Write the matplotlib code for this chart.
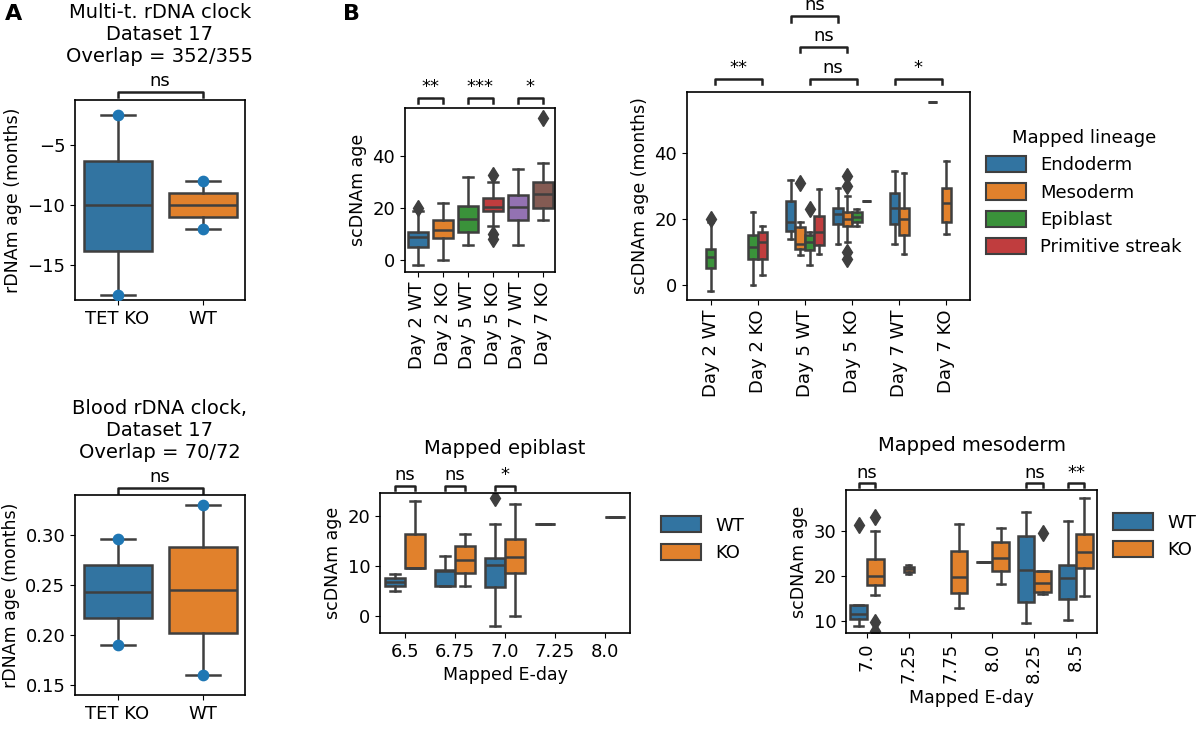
import matplotlib
matplotlib.use("Agg")
import matplotlib.pyplot as plt
from matplotlib.patches import Patch

# ---------------- data (box stats) ----------------
# each box: (q1, med, q3, whislo, whishi, fliers)
A_top_groups = ["TET KO", "WT"]
A_top_boxes = [(-13.8, -10.0, -6.3, -17.5, -2.5, []), (-11.0, -10.0, -9.0, -12.0, -8.0, [])]
A_top_points = [[-17.5, -2.5], [-12.0, -8.0]]

A_bot_groups = ["TET KO", "WT"]
A_bot_boxes = [(0.217, 0.243, 0.270, 0.190, 0.296, []), (0.202, 0.245, 0.288, 0.160, 0.330, [])]
A_bot_points = [[0.190, 0.296], [0.160, 0.330]]

day_labels = ["Day 2 WT", "Day 2 KO", "Day 5 WT", "Day 5 KO", "Day 7 WT", "Day 7 KO"]
day_boxes = [
    (5.0, 9.0, 11.0, -2.0, 19.0, [20.0]),
    (8.5, 11.5, 15.5, 0.0, 22.0, []),
    (11.0, 16.0, 21.0, 6.0, 32.0, []),
    (19.0, 20.5, 24.0, 13.0, 30.0, [33.0, 10.0, 8.0]),
    (15.5, 20.5, 25.0, 6.0, 35.0, []),
    (20.0, 25.5, 30.0, 15.5, 37.5, [55.0]),
]

lineages = ["Endoderm", "Mesoderm", "Epiblast", "Primitive streak"]
# per day: list of (lineage index, slot, stats)
lineage_boxes = [
    [(2, 0.0, (5.0, 8.5, 11.0, -2.0, 19.0, [20.0]))],
    [(2, -0.1, (8.0, 11.5, 15.0, 0.0, 22.0, [])),
     (3, 0.1, (8.0, 13.0, 16.0, 3.0, 18.0, []))],
    [(0, -0.3, (16.5, 19.0, 25.5, 14.0, 32.0, [])),
     (1, -0.1, (11.0, 12.5, 17.5, 9.0, 19.0, [31.0])),
     (2, 0.1, (10.5, 13.0, 15.0, 6.0, 16.0, [23.0])),
     (3, 0.3, (12.0, 16.0, 21.0, 9.5, 29.0, []))],
    [(0, -0.3, (18.5, 21.5, 23.5, 12.5, 29.5, [])),
     (1, -0.1, (18.0, 20.0, 22.0, 13.0, 27.0, [30.0, 33.0, 10.0, 8.0])),
     (2, 0.1, (19.0, 20.5, 22.0, 18.0, 23.0, [])),
     (3, 0.3, (25.5, 25.5, 25.5, 25.5, 25.5, []))],
    [(0, -0.1, (18.5, 23.5, 28.0, 12.5, 34.5, [])),
     (1, 0.1, (15.0, 20.0, 23.5, 9.5, 34.0, []))],
    [(0, -0.3, (55.5, 55.5, 55.5, 55.5, 55.5, [])),
     (1, 0.0, (19.0, 25.0, 29.5, 15.5, 37.5, []))],
]

epi_days = ["6.5", "6.75", "7.0", "7.25", "8.0"]
epi_wt = [(6.0, 6.8, 7.5, 5.0, 8.4, []), (6.0, 9.0, 9.2, 6.0, 12.0, []),
          (5.8, 10.2, 11.6, -2.0, 18.4, [23.5]), (18.3, 18.3, 18.3, 18.3, 18.3, []), None]
epi_ko = [(9.5, 9.6, 16.3, 9.5, 23.0, []), (8.5, 11.2, 14.0, 6.0, 16.4, []),
          (8.5, 11.7, 15.3, 0.0, 22.4, []), None, (19.7, 19.7, 19.7, 19.7, 19.7, [])]

meso_days = ["7.0", "7.25", "7.75", "8.0", "8.25", "8.5"]
meso_wt = [(10.5, 11.5, 13.5, 9.0, 13.5, [31.2]), None, None,
           (23.2, 23.2, 23.2, 23.2, 23.2, []), (14.2, 21.3, 28.8, 9.6, 34.2, []),
           (15.0, 19.5, 22.5, 10.3, 32.2, [])]
meso_ko = [(18.0, 20.0, 23.8, 15.8, 30.0, [33.0, 9.8, 7.8]), (20.8, 21.5, 22.0, 20.4, 22.4, []),
           (16.2, 19.7, 25.6, 13.0, 31.5, []), (21.0, 24.0, 27.5, 18.2, 30.7, []),
           (16.5, 18.5, 21.0, 16.0, 21.0, [29.4]), (21.8, 25.3, 29.2, 15.6, 37.2, [])]

# ---------------- style ----------------
plt.rcParams["font.family"] = "DejaVu Sans"
plt.rcParams["font.size"] = 12
plt.rcParams["xtick.labelsize"] = 13
plt.rcParams["ytick.labelsize"] = 13
plt.rcParams["axes.labelsize"] = 12.5
plt.rcParams["axes.linewidth"] = 1.2
LC = "#3f3f3f"
BLUE, ORANGE, GREEN, RED, PURPLE, BROWN = "#3274a1", "#e1812c", "#3a923a", "#c03d3e", "#9372b2", "#845b53"
lin_colors = [BLUE, ORANGE, GREEN, RED]


def box(ax, stats, pos, color, width):
    q1, med, q3, lo, hi, fl = stats
    st = dict(q1=q1, med=med, q3=q3, whislo=lo, whishi=hi, fliers=fl)
    ax.bxp([st], positions=[pos], widths=width, patch_artist=True, showfliers=True,
           boxprops=dict(facecolor=color, edgecolor=LC, linewidth=1.8),
           medianprops=dict(color=LC, linewidth=1.8),
           whiskerprops=dict(color=LC, linewidth=1.8),
           capprops=dict(color=LC, linewidth=1.8),
           flierprops=dict(marker="d", markerfacecolor=LC, markeredgecolor=LC, markersize=8),
           manage_ticks=False)


def bracket(ax, x1, x2, y, h, text):
    ax.plot([x1, x1, x2, x2], [y, y + h, y + h, y], color="#222222", lw=1.8, clip_on=False)
    ax.text((x1 + x2) / 2, y + h * 1.4, text, ha="center", va="bottom", fontsize=13, clip_on=False)


fig = plt.figure(figsize=(12, 7.29), dpi=100)
W, H = 1200, 729


def axes_px(x0, y0, x1, y1):
    return fig.add_axes([x0 / W, 1 - y1 / H, (x1 - x0) / W, (y1 - y0) / H])


# ---------------- A top ----------------
ax = axes_px(75, 100, 245, 300)
for i, (st, pts) in enumerate(zip(A_top_boxes, A_top_points)):
    box(ax, st, i, [BLUE, ORANGE][i], 0.8)
    ax.scatter([i] * len(pts), pts, color="#1f77b4", s=55, zorder=5)
ax.set_xlim(-0.5, 1.5)
ax.set_ylim(-17.9, -1.25)
ax.set_xticks([0, 1], A_top_groups)
ax.set_ylabel("rDNAm age (months)")
ax.set_title("Multi-t. rDNA clock\nDataset 17\nOverlap = 352/355", fontsize=14, pad=27)
bracket(ax, 0, 1, -1.0, 0.4, "ns")

# ---------------- A bottom ----------------
ax = axes_px(75, 495, 245, 695)
for i, (st, pts) in enumerate(zip(A_bot_boxes, A_bot_points)):
    box(ax, st, i, [BLUE, ORANGE][i], 0.8)
    ax.scatter([i] * len(pts), pts, color="#1f77b4", s=55, zorder=5)
ax.set_xlim(-0.5, 1.5)
ax.set_ylim(0.14, 0.34)
ax.set_xticks([0, 1], A_bot_groups)
ax.set_ylabel("rDNAm age (months)")
ax.set_title("Blood rDNA clock,\nDataset 17\nOverlap = 70/72", fontsize=14, pad=27)
bracket(ax, 0, 1, 0.342, 0.005, "ns")

# ---------------- B top left ----------------
ax = axes_px(405, 108, 555, 272)
for i, st in enumerate(day_boxes):
    box(ax, st, i, [BLUE, ORANGE, GREEN, RED, PURPLE, BROWN][i], 0.8)
ax.set_xlim(-0.5, 5.5)
ax.set_ylim(-4.6, 58.7)
ax.set_xticks(range(6), day_labels, rotation=90)
ax.set_yticks([0, 20, 40])
ax.set_ylabel("scDNAm age")
for a, b, t in [(0, 1, "**"), (2, 3, "***"), (4, 5, "*")]:
    bracket(ax, a, b, 60.5, 2, t)

# ---------------- B top right ----------------
ax = axes_px(687, 92, 970, 300)
for i, items in enumerate(lineage_boxes):
    for li, off, st in items:
        box(ax, st, i + off, lin_colors[li], 0.2)
ax.set_xlim(-0.5, 5.5)
ax.set_ylim(-4.6, 58.6)
ax.set_xticks(range(6), day_labels, rotation=90)
ax.set_yticks([0, 20, 40])
ax.set_ylabel("scDNAm age (months)")
bracket(ax, 0.1, 1.1, 61.0, 1.6, "**")
bracket(ax, 2.1, 3.1, 61.0, 1.6, "ns")
bracket(ax, 1.9, 2.9, 70.7, 1.6, "ns")
bracket(ax, 1.7, 2.7, 80.0, 1.6, "ns")
bracket(ax, 3.9, 4.9, 61.0, 1.6, "*")
ax.legend([Patch(facecolor=c, edgecolor=LC, linewidth=1.5) for c in lin_colors], lineages,
          title="Mapped lineage", frameon=False, loc="upper left",
          bbox_to_anchor=(1.0, 0.9), fontsize=13, title_fontsize=13,
          handlelength=2.2, handleheight=1.0)

# ---------------- B bottom middle ----------------
ax = axes_px(380, 493, 630, 633)
for i in range(len(epi_days)):
    if epi_wt[i]:
        box(ax, epi_wt[i], i - 0.2, BLUE, 0.4)
    if epi_ko[i]:
        box(ax, epi_ko[i], i + 0.2, ORANGE, 0.4)
ax.set_xlim(-0.5, 4.5)
ax.set_ylim(-3.5, 24.6)
ax.set_xticks(range(len(epi_days)), epi_days)
ax.set_ylabel("scDNAm age")
ax.set_xlabel("Mapped E-day")
ax.set_title("Mapped epiblast", fontsize=14, pad=28)
for i, t in enumerate(["ns", "ns", "*"]):
    bracket(ax, i - 0.2, i + 0.2, 25.2, 0.8, t)
ax.legend([Patch(facecolor=c, edgecolor=LC, linewidth=1.5) for c in [BLUE, ORANGE]], ["WT", "KO"],
          frameon=False, loc="upper left", bbox_to_anchor=(1.06, 0.95), fontsize=13,
          handlelength=2.2, handleheight=1.0)

# ---------------- B bottom right ----------------
ax = axes_px(846, 490, 1097, 633)
for i in range(len(meso_days)):
    if meso_wt[i] and meso_ko[i]:
        box(ax, meso_wt[i], i - 0.2, BLUE, 0.4)
        box(ax, meso_ko[i], i + 0.2, ORANGE, 0.4)
    elif meso_ko[i]:
        pos = i + 0.2 if i != 1 else i
        box(ax, meso_ko[i], pos, ORANGE, 0.4 if i != 1 else 0.25)
ax.set_xlim(-0.5, 5.5)
ax.set_ylim(7.4, 39.0)
ax.set_xticks(range(len(meso_days)), meso_days, rotation=90)
ax.set_ylabel("scDNAm age")
ax.set_xlabel("Mapped E-day")
ax.set_title("Mapped mesoderm", fontsize=14, pad=28)
for i, t in [(0, "ns"), (4, "ns"), (5, "**")]:
    bracket(ax, i - 0.2, i + 0.2, 39.6, 0.9, t)
ax.legend([Patch(facecolor=c, edgecolor=LC, linewidth=1.5) for c in [BLUE, ORANGE]], ["WT", "KO"],
          frameon=False, loc="upper left", bbox_to_anchor=(1.0, 0.95), fontsize=13,
          handlelength=2.2, handleheight=1.0)

fig.text(5 / W, 1 - 20 / H, "A", fontsize=16, fontweight="bold")
fig.text(343 / W, 1 - 20 / H, "B", fontsize=16, fontweight="bold")

fig.savefig("out.png", dpi=100)
